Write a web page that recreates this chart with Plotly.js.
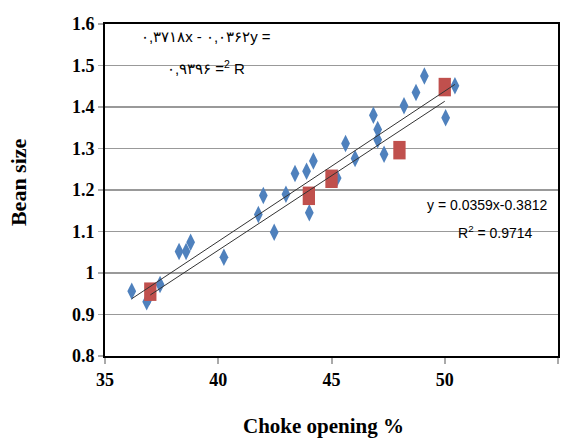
<!DOCTYPE html>
<html>
<head>
<meta charset="utf-8">
<script src="https://cdn.plot.ly/plotly-3.0.1.min.js"></script>
<style>html,body{margin:0;padding:0;background:#fff;}</style>
</head>
<body>
<div id="chart" style="width:565px;height:441px;"></div>
<script>
// Blue series (measured)
var blueX = [36.18, 36.84, 36.96, 37.43, 38.27, 38.58, 38.78, 40.25, 41.77, 41.99, 42.47, 42.99, 43.39, 43.9, 44.2, 44.02, 45.25, 45.62, 46.04, 46.85, 47.04, 47.04, 47.32, 48.2, 48.73, 49.1, 50.04, 50.45];
var blueY = [0.956, 0.931, 0.943, 0.972, 1.052, 1.052, 1.074, 1.038, 1.141, 1.187, 1.098, 1.19, 1.24, 1.245, 1.27, 1.145, 1.229, 1.312, 1.276, 1.38, 1.346, 1.321, 1.286, 1.403, 1.435, 1.475, 1.374, 1.451];
// Red series
var redX = [37, 44, 45, 48, 50];
var redY = [0.955, 1.186, 1.227, 1.296, 1.448];
// Trendline coefficients (from the chart labels)
var blueSlope = 0.0362, blueIntercept = -0.3718;
var redSlope = 0.0359, redIntercept = -0.3812;
// Axis ticks
var xTicks = [35, 40, 45, 50, 55];
var yTicks = [0.8, 0.9, 1, 1.1, 1.2, 1.3, 1.4, 1.5, 1.6];
var yTickText = ['0.8', '0.9', '1', '1.1', '1.2', '1.3', '1.4', '1.5', '1.6'];
// Texts
var xTitle = 'Choke opening %';
var yTitle = 'Bean size';
var eqBlue = '۰,۳۷۱۸x - ۰,۰۳۶۲y =';
var r2Blue = '۰,۹۳۹۶ =<sup>2</sup> R';
var eqRed = 'y = 0.0359x-0.3812';
var r2Red = 'R<sup>2</sup> = 0.9714';

function trend(xs, m, b) {
  var lo = Math.min.apply(null, xs), hi = Math.max.apply(null, xs);
  return {x: [lo, hi], y: [m * lo + b, m * hi + b]};
}
var tb = trend(blueX, blueSlope, blueIntercept);
var tr = trend(redX, redSlope, redIntercept);

var traces = [
  {x: blueX, y: blueY, type: 'scatter', mode: 'markers', cliponaxis: false,
   marker: {symbol: 'diamond-tall', size: 12.5, color: '#4F81BD', line: {width: 0}}},
  {x: redX, y: redY, type: 'scatter', mode: 'markers', cliponaxis: false,
   marker: {symbol: 'line-ns', size: 13.2, color: '#C0504D', line: {width: 12.3, color: '#C0504D'}}},
  {x: tb.x, y: tb.y, type: 'scatter', mode: 'lines', line: {color: '#333333', width: 1}},
  {x: tr.x, y: tr.y, type: 'scatter', mode: 'lines', line: {color: '#333333', width: 1}}
];

var serif = 'Liberation Serif, Times New Roman, serif';
var sans = 'Liberation Sans, Arial, sans-serif';
var tickFont = {family: serif, size: 18, color: '#000', weight: 'bold'};

var layout = {
  width: 565, height: 441,
  margin: {l: 105, r: 7, t: 24, b: 85},
  paper_bgcolor: '#fff', plot_bgcolor: '#fff',
  showlegend: false,
  xaxis: {
    range: [35, 55], tickvals: xTicks, ticktext: xTicks.map(String),
    showgrid: false, zeroline: false,
    showline: true, linecolor: '#000', linewidth: 2, mirror: true,
    ticks: 'outside', ticklen: 6, tickcolor: '#aaa', tickwidth: 2,
    tickfont: tickFont
  },
  yaxis: {
    range: [0.8, 1.6], tickvals: yTicks, ticktext: yTickText,
    showgrid: true, gridcolor: '#999', gridwidth: 1.5, zeroline: false,
    showline: true, linecolor: '#000', linewidth: 2, mirror: true,
    ticks: 'outside', ticklen: 5, tickcolor: '#aaa', tickwidth: 1.5,
    tickfont: tickFont
  },
  annotations: [
    {xref: 'paper', yref: 'paper', x: 0.4834, y: -0.212, showarrow: false, xanchor: 'center', yanchor: 'middle',
     text: '<b>' + xTitle + '</b>', font: {family: serif, size: 21, color: '#000'}},
    {xref: 'paper', yref: 'paper', x: -0.192, y: 0.524, showarrow: false, xanchor: 'center', yanchor: 'middle',
     textangle: -90, text: '<b>' + yTitle + '</b>', font: {family: serif, size: 22, color: '#000'}},
    {xref: 'paper', yref: 'paper', x: 0.223, y: 0.961, showarrow: false, xanchor: 'center', yanchor: 'middle',
     text: eqBlue, font: {family: sans, size: 15, color: '#000'}},
    {xref: 'paper', yref: 'paper', x: 0.223, y: 0.870, showarrow: false, xanchor: 'center', yanchor: 'middle',
     text: r2Blue, font: {family: sans, size: 15, color: '#000'}},
    {xref: 'paper', yref: 'paper', x: 0.843, y: 0.455, showarrow: false, xanchor: 'center', yanchor: 'middle',
     text: eqRed, font: {family: sans, size: 14, color: '#000'}},
    {xref: 'paper', yref: 'paper', x: 0.861, y: 0.373, showarrow: false, xanchor: 'center', yanchor: 'middle',
     text: r2Red, font: {family: sans, size: 14, color: '#000'}}
  ]
};

Plotly.newPlot('chart', traces, layout, {displayModeBar: false, staticPlot: true});
</script>
</body>
</html>
